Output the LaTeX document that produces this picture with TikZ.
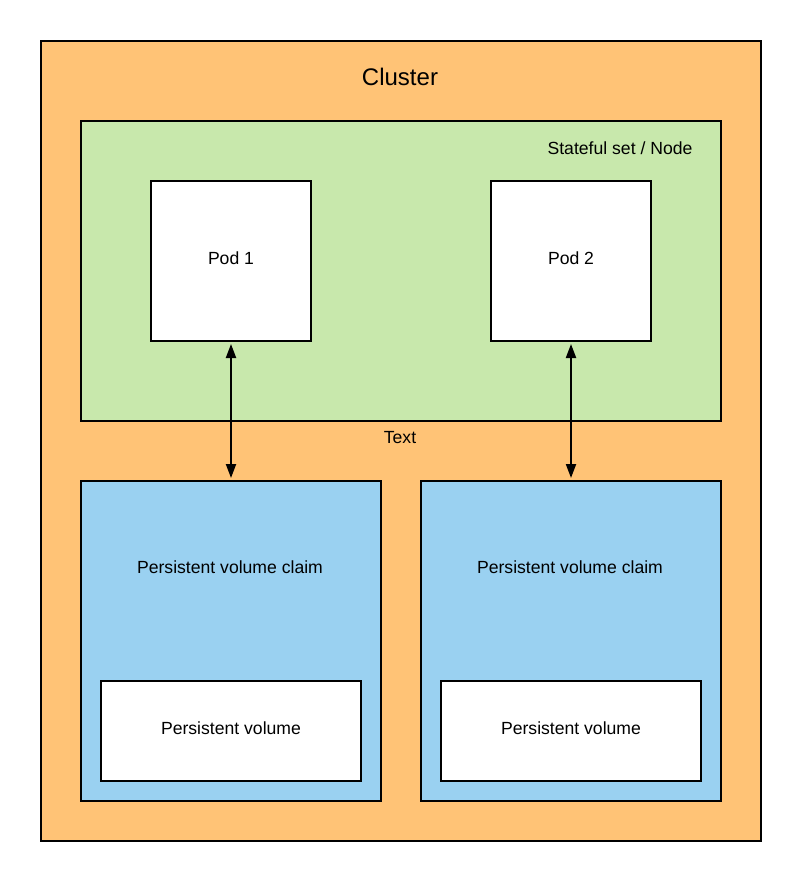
\documentclass[tikz,border=0pt]{standalone}
\usepackage{fontspec}
\setmainfont{Liberation Sans}
\usetikzlibrary{arrows.meta}
\definecolor{clusterorange}{RGB}{255,195,118}
\definecolor{setgreen}{RGB}{200,232,172}
\definecolor{claimblue}{RGB}{154,209,241}
\tikzset{
	box/.style={draw=black,line width=1.5pt,inner sep=0pt,anchor=north west},
	lbl/.style={font=\fontsize{13.2}{15}\selectfont,inner sep=0pt}
}
\begin{document}
\begin{tikzpicture}[x=0.75pt,y=-0.75pt,>={Triangle[length=10.5pt,width=7.5pt]},line width=1.5pt]
			\useasboundingbox (0,0) rectangle (800,880);
			\node[box,fill=clusterorange,minimum width=540pt,minimum height=600pt] (cluster) at (40,40) {};
			\node[font=\fontsize{18}{21}\selectfont,inner sep=0pt] (clustertitle) at (400,77) {Cluster};
			\node[box,fill=setgreen,minimum width=480pt,minimum height=225pt] (set) at (80,120) {};
			\node[lbl] (settitle) at (620,148) {Stateful set / Node};
			\node[box,fill=white,minimum width=120pt,minimum height=120pt] (pod1) at (150,180) {};
			\node[lbl] at ([yshift=2.2pt]pod1.center) {Pod 1};
			\node[box,fill=white,minimum width=120pt,minimum height=120pt] (pod2) at (490,180) {};
			\node[lbl] at ([yshift=2.2pt]pod2.center) {Pod 2};
			\node[lbl] (txt) at (400,438) {Text};
			\node[box,fill=claimblue,minimum width=225pt,minimum height=240pt] (pvc1) at (80,480) {};
			\node[lbl] (pvc1title) at (230,567) {Persistent volume claim};
			\node[box,fill=white,minimum width=195pt,minimum height=75pt] (pv1) at (100,680) {};
			\node[lbl] at ([yshift=2.2pt]pv1.center) {Persistent volume};
			\node[box,fill=claimblue,minimum width=225pt,minimum height=240pt] (pvc2) at (420,480) {};
			\node[lbl] (pvc2title) at (570,567) {Persistent volume claim};
			\node[box,fill=white,minimum width=195pt,minimum height=75pt] (pv2) at (440,680) {};
			\node[lbl] at ([yshift=2.2pt]pv2.center) {Persistent volume};
			\draw[<->,shorten <=1.5pt,shorten >=1.5pt] (pod1.south) -- (pvc1.north-|pod1.south);
			\draw[<->,shorten <=1.5pt,shorten >=1.5pt] (pod2.south) -- (pvc2.north-|pod2.south);
		\end{tikzpicture}
\end{document}
